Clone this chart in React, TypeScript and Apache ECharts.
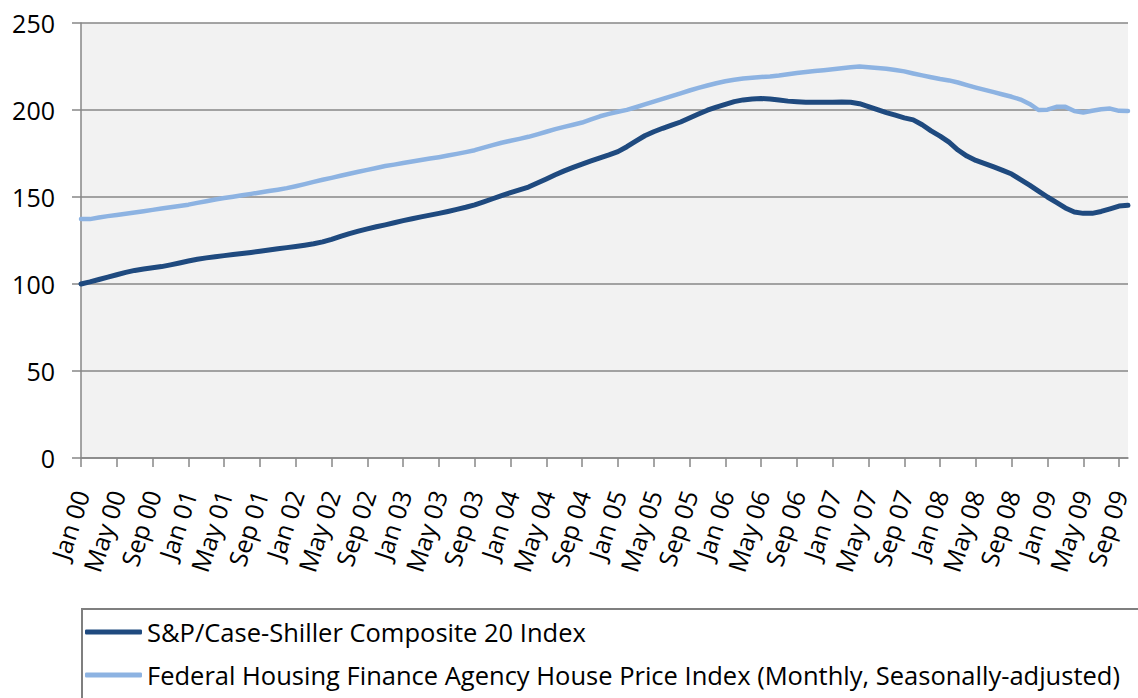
import React, { useEffect, useRef } from "react";
import * as echarts from "echarts";

const MONTHS = ["Jan", "Feb", "Mar", "Apr", "May", "Jun", "Jul", "Aug", "Sep", "Oct", "Nov", "Dec"];
const YEARS = ["00", "01", "02", "03", "04", "05", "06", "07", "08", "09"];
const N_POINTS = 118; // Jan 00 .. Oct 09
const categories: string[] = [];
for (const y of YEARS) for (const m of MONTHS) categories.push(`${m} ${y}`);
const xCategories = categories.slice(0, N_POINTS);

const caseShiller = [
  100.0, 101.2, 102.6, 104.0, 105.3, 106.7, 107.8, 108.6, 109.3, 110.0, 111.0, 112.1,
  113.2, 114.2, 115.0, 115.7, 116.3, 116.9, 117.5, 118.1, 118.8, 119.5, 120.2, 120.9,
  121.6, 122.3, 123.1, 124.2, 125.7, 127.4, 129.0, 130.4, 131.7, 132.9, 134.0, 135.2,
  136.4, 137.5, 138.6, 139.6, 140.6, 141.7, 142.9, 144.1, 145.5, 147.2, 149.0, 150.8,
  152.5, 154.1, 155.7, 158.0, 160.4, 162.8, 165.0, 167.0, 168.9, 170.7, 172.5, 174.2,
  176.1, 178.9, 182.1, 185.2, 187.5, 189.5, 191.3, 193.1, 195.4, 197.7, 199.9, 201.7,
  203.2, 204.8, 205.8, 206.3, 206.6, 206.3, 205.7, 205.1, 204.8, 204.5, 204.4, 204.4,
  204.4, 204.6, 204.5, 203.6, 202.0, 200.2, 198.5, 197.0, 195.5, 194.3, 191.5, 188.0,
  185.0, 181.5, 177.0, 173.5, 171.0, 169.2, 167.3, 165.3, 163.2, 160.0, 156.8, 153.4,
  150.0, 146.9, 143.7, 141.4, 140.6, 140.6, 141.7, 143.2, 144.8, 145.2,
];

const fhfa = [
  137.3, 137.3, 138.2, 139.0, 139.7, 140.4, 141.1, 141.8, 142.6, 143.4, 144.1, 144.8,
  145.6, 146.6, 147.6, 148.6, 149.4, 150.2, 151.0, 151.8, 152.6, 153.4, 154.2, 155.1,
  156.2, 157.4, 158.7, 159.9, 161.0, 162.2, 163.4, 164.5, 165.6, 166.7, 167.8, 168.6,
  169.5, 170.4, 171.3, 172.1, 172.9, 173.8, 174.8, 175.8, 176.9, 178.4, 179.8, 181.2,
  182.3, 183.4, 184.6, 186.0, 187.5, 189.0, 190.3, 191.5, 192.8, 194.6, 196.4, 197.8,
  199.0, 200.1, 201.6, 203.2, 204.8, 206.4, 208.0, 209.6, 211.2, 212.7, 214.1, 215.4,
  216.5, 217.4, 218.1, 218.6, 219.0, 219.3, 219.8, 220.6, 221.3, 221.9, 222.4, 222.9,
  223.4, 224.0, 224.6, 225.0, 224.6, 224.1, 223.7, 223.0, 222.2, 221.0, 219.9, 218.8,
  217.8, 217.0, 215.8, 214.3, 212.9, 211.6, 210.3, 208.9, 207.6, 206.0, 203.5, 200.0,
  200.2, 201.8, 201.8, 199.4, 198.6, 199.6, 200.4, 200.8, 199.5, 199.4,
];

const SERIES_NAMES = [
  "S&P/Case-Shiller Composite 20 Index",
  "Federal Housing Finance Agency House Price Index (Monthly, Seasonally-adjusted)",
];
const Y_MIN = 0;
const Y_MAX = 250;
const Y_STEP = 50;

const FONT = "'Open Sans', 'Noto Sans', sans-serif";
const GRAY = "#878787";

export default function App() {
  const ref = useRef<HTMLDivElement>(null);
  useEffect(() => {
    if (!ref.current) return;
    const chart = echarts.init(ref.current, undefined, { renderer: "svg" });
    chart.setOption({
      animation: false,
      backgroundColor: "#ffffff",
      textStyle: { fontFamily: FONT },
      grid: {
        left: 81,
        top: 23,
        right: 10,
        bottom: 240,
        show: true,
        backgroundColor: "#F2F2F2",
        borderWidth: 0,
      },
      xAxis: {
        type: "category",
        data: xCategories,
        boundaryGap: false,
        axisLine: { show: true, lineStyle: { color: GRAY, width: 1.5 } },
        axisTick: { show: true, interval: 3, length: 9, lineStyle: { color: GRAY, width: 1.5 } },
        axisLabel: {
          interval: 3,
          rotate: 72,
          margin: 33,
          fontSize: 25,
          color: "#000",
          fontFamily: FONT,
          padding: [26, 0, 0, 0],
        },
        splitLine: { show: false },
      },
      yAxis: {
        type: "value",
        min: Y_MIN,
        max: Y_MAX,
        interval: Y_STEP,
        axisLine: { show: true, lineStyle: { color: GRAY, width: 1.5 } },
        axisTick: { show: true, length: 9, lineStyle: { color: GRAY, width: 1.5 } },
        axisLabel: { fontSize: 25, color: "#000", margin: 26, fontFamily: FONT },
        splitLine: { show: true, lineStyle: { color: GRAY, width: 1.5 } },
      },
      legend: {
        orient: "vertical",
        left: 85,
        top: 619,
        height: 200,
        padding: 0,
        itemWidth: 57,
        itemHeight: 5,
        itemGap: 17,
        icon: "roundRect",
        textStyle: { fontSize: 25.5, color: "#000", fontFamily: FONT, lineHeight: 22 },
        data: SERIES_NAMES,
      },
      graphic: [
        {
          type: "rect",
          shape: { x: 82, y: 609, width: 1100, height: 200 },
          style: { fill: "none", stroke: "#7f7f7f", lineWidth: 2 },
          silent: true,
          z: -1,
        },
      ],
      series: [
        {
          name: SERIES_NAMES[0],
          type: "line",
          data: caseShiller,
          symbol: "none",
          color: "#1F4A7F",
          lineStyle: { color: "#1F4A7F", width: 5, cap: "round", join: "round" },
          z: 3,
        },
        {
          name: SERIES_NAMES[1],
          type: "line",
          data: fhfa,
          symbol: "none",
          color: "#8DB3E2",
          lineStyle: { color: "#8DB3E2", width: 4.5, cap: "round", join: "round" },
          z: 2,
        },
      ],
    });
    return () => chart.dispose();
  }, []);
  return (
    <div
      ref={ref}
      style={{ position: "fixed", left: 0, top: 0, width: 1138, height: 698 }}
    />
  );
}
